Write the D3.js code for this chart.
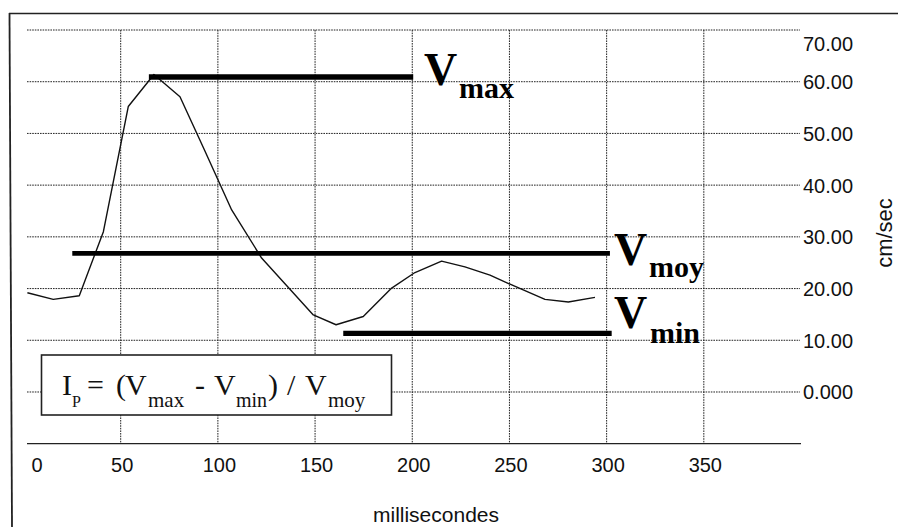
<!DOCTYPE html>
<html>
<head>
<meta charset="utf-8">
<script src="https://cdn.jsdelivr.net/npm/d3@7"></script>
<style>
  html, body { margin: 0; padding: 0; background: #fff; }
  svg { display: block; }
</style>
</head>
<body>
<svg id="chart" width="898" height="527"></svg>
<script>
// ---- data ----
const timeMs   = [2.0, 15.3, 28.7, 41.1, 53.9, 67.1, 80.5, 93.1, 107.1, 122.5, 135.1, 149.1, 160.8, 174.8, 189.4, 201.4, 215.1, 227.1, 240.0, 251.2, 268.3, 280.3, 294.0];
const velocity = [19.2, 17.9, 18.6, 31.0, 55.2, 61.4, 57.1, 46.8, 35.2, 25.9, 20.7, 14.9, 13.0, 14.6, 20.1, 23.1, 25.3, 24.2, 22.6, 20.7, 17.9, 17.4, 18.3];

const levelNames  = ["max", "moy", "min"];
const levelValues = [60.9, 26.8, 11.35];
const levelStart  = [64.5, 25.1, 164.5];
const levelEnd    = [200.5, 301.7, 302.6];

const xTicks = [0, 50, 100, 150, 200, 250, 300, 350];
const yTicks = [0, 10, 20, 30, 40, 50, 60, 70];
const xTitle = "millisecondes";
const yTitle = "cm/sec";

// ---- layout ----
const svg = d3.select("#chart");
const plotLeft = 27, plotRight = 800;
const x = d3.scaleLinear().domain([0, 400]).range([23.5, 801]);
const y = d3.scaleLinear().domain([-10, 70]).range([443.7, 30]);

const SANS = "'Liberation Sans', Arial, sans-serif";
const SERIF = "'Liberation Serif', 'Times New Roman', serif";

// outer frame (top + left)
svg.append("line").attr("x1", 9).attr("y1", 13.5).attr("x2", 898).attr("y2", 13.5)
  .attr("stroke", "#222").attr("stroke-width", 1.6);
svg.append("line").attr("x1", 9.5).attr("y1", 13).attr("x2", 12).attr("y2", 527)
  .attr("stroke", "#222").attr("stroke-width", 1.8);

// horizontal gridlines
svg.append("g").selectAll("line").data(yTicks).join("line")
  .attr("x1", plotLeft).attr("x2", plotRight)
  .attr("y1", d => y(d)).attr("y2", d => y(d))
  .attr("stroke", "#222").attr("stroke-width", 1).attr("stroke-dasharray", "1.6,1");

// vertical gridlines
svg.append("g").selectAll("line").data(xTicks.filter(d => d > 0)).join("line")
  .attr("x1", d => x(d)).attr("x2", d => x(d))
  .attr("y1", y(70)).attr("y2", y(-10))
  .attr("stroke", "#222").attr("stroke-width", 1).attr("stroke-dasharray", "1.6,1");

// x axis line
svg.append("line").attr("x1", plotLeft).attr("x2", plotRight + 1)
  .attr("y1", y(-10)).attr("y2", y(-10))
  .attr("stroke", "#222").attr("stroke-width", 1.2);

// bottom axis labels
const xAxis = d3.axisBottom(x).tickValues(xTicks).tickSize(0).tickPadding(14)
  .tickFormat(d3.format("d"));
const gx = svg.append("g").attr("transform", `translate(0,${y(-10)})`).call(xAxis);
gx.select(".domain").remove();
gx.selectAll("text").attr("font-family", SANS).attr("font-size", 20).attr("fill", "#111")
  .attr("dx", d => d === 0 ? 13 : 1);

// right axis labels
const yAxis = d3.axisRight(y).tickValues(yTicks).tickSize(0).tickPadding(3)
  .tickFormat(d => d === 0 ? "0.000" : d.toFixed(2));
const gy = svg.append("g").attr("transform", `translate(${plotRight},0)`).call(yAxis);
gy.select(".domain").remove();
gy.selectAll("text").attr("font-family", SANS).attr("font-size", 20).attr("fill", "#111")
  .attr("dy", d => d === 70 ? "1.02em" : "0.35em");

// axis titles
svg.append("text").attr("x", 436).attr("y", 522).attr("text-anchor", "middle")
  .attr("font-family", SANS).attr("font-size", 21).attr("fill", "#111").text(xTitle);
svg.append("text").attr("transform", "translate(892,233) rotate(-90)")
  .attr("text-anchor", "middle").attr("font-family", SANS).attr("font-size", 22)
  .attr("fill", "#111").text(yTitle);

// formula box
svg.append("rect").attr("x", 41.5).attr("y", 355).attr("width", 350).attr("height", 60)
  .attr("fill", "#fff").attr("stroke", "#222").attr("stroke-width", 1.6);

const formula = [
  { t: "I",   x: 62,  size: 30 },
  { t: "P",   x: 72,  sub: true, size: 16 },
  { t: "=",   x: 87,  size: 30 },
  { t: "(",   x: 116, size: 30 },
  { t: "V",   x: 125, size: 30 },
  { t: "max", x: 148, sub: true, size: 21 },
  { t: "-",   x: 195, size: 30 },
  { t: "V",   x: 214, size: 30 },
  { t: "min", x: 236, sub: true, size: 20 },
  { t: ")",   x: 268, size: 30 },
  { t: "/",   x: 287, size: 30 },
  { t: "V",   x: 305, size: 30 },
  { t: "moy", x: 328, sub: true, size: 21 }
];
svg.append("g").selectAll("text").data(formula).join("text")
  .attr("x", d => d.x).attr("y", d => d.sub ? 407 : 395)
  .attr("font-family", SERIF).attr("font-size", d => d.size)
  .attr("fill", "#111").text(d => d.t);

// velocity curve
const pts = timeMs.map((t, i) => [t, velocity[i]]);
svg.append("path").datum(pts)
  .attr("d", d3.line().x(d => x(d[0])).y(d => y(d[1])))
  .attr("fill", "none").attr("stroke", "#111").attr("stroke-width", 1.4)
  .attr("stroke-linejoin", "round");

// level bars
const thick = [5.5, 4.8, 5.2];
svg.append("g").selectAll("line").data(levelNames).join("line")
  .attr("x1", (d, i) => x(levelStart[i])).attr("x2", (d, i) => x(levelEnd[i]))
  .attr("y1", (d, i) => y(levelValues[i])).attr("y2", (d, i) => y(levelValues[i]))
  .attr("stroke", "#000").attr("stroke-width", (d, i) => thick[i]);

// level labels (V + subscript)
const labelPos = [
  { vx: 424, vy: 85,  sx: 459, sy: 98 },
  { vx: 614, vy: 265, sx: 649, sy: 277 },
  { vx: 614, vy: 328, sx: 650, sy: 343 }
];
const lg = svg.append("g").selectAll("g").data(levelNames).join("g");
lg.append("text").attr("x", (d, i) => labelPos[i].vx).attr("y", (d, i) => labelPos[i].vy)
  .attr("font-family", SERIF).attr("font-weight", "bold").attr("font-size", 46)
  .attr("fill", "#000").text("V");
lg.append("text").attr("x", (d, i) => labelPos[i].sx).attr("y", (d, i) => labelPos[i].sy)
  .attr("font-family", SERIF).attr("font-weight", "bold").attr("font-size", 30)
  .attr("fill", "#000").text(d => d);
</script>
</body>
</html>
